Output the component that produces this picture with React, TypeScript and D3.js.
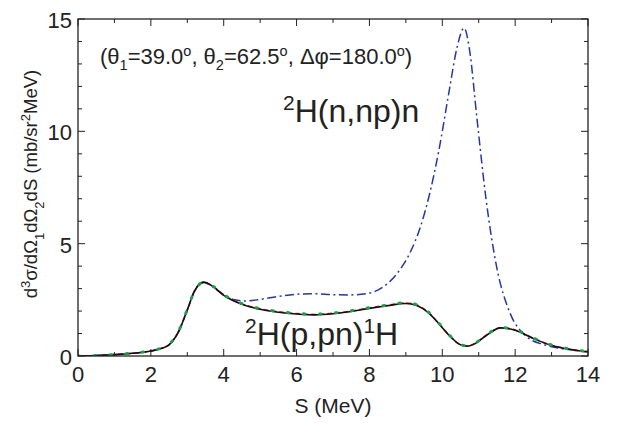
import React from "react";
import * as d3 from "d3";

// ---- data ----
const S_PN = [0, 0.5, 1, 1.5, 2, 2.25, 2.5, 2.75, 3, 3.2, 3.45, 3.7, 4, 4.5, 5, 5.5, 6, 6.5, 7, 7.5, 8, 8.5, 9, 9.3, 9.6, 9.9, 10.2, 10.5, 10.7, 10.9, 11.2, 11.6, 12, 12.5, 13, 13.5, 14];
const BLACK_PN = [0, 0.02, 0.06, 0.12, 0.22, 0.32, 0.5, 1.05, 2.05, 2.9, 3.29, 3.1, 2.7, 2.3, 2.08, 1.95, 1.87, 1.83, 1.88, 1.98, 2.12, 2.24, 2.34, 2.25, 1.95, 1.45, 0.9, 0.5, 0.44, 0.55, 0.9, 1.25, 1.15, 0.78, 0.47, 0.3, 0.18];
const RED_PN = [0, 0.02, 0.06, 0.12, 0.22, 0.33, 0.5, 1.05, 2.05, 2.88, 3.28, 3.1, 2.72, 2.32, 2.1, 1.97, 1.89, 1.85, 1.9, 2.0, 2.14, 2.26, 2.36, 2.27, 1.97, 1.46, 0.9, 0.5, 0.45, 0.56, 0.92, 1.26, 1.16, 0.79, 0.48, 0.3, 0.18];
const GREEN_PN = [0, 0.02, 0.07, 0.13, 0.23, 0.33, 0.52, 1.07, 2.07, 2.9, 3.28, 3.11, 2.73, 2.33, 2.11, 1.98, 1.9, 1.86, 1.91, 2.01, 2.15, 2.27, 2.37, 2.28, 1.98, 1.47, 0.92, 0.51, 0.45, 0.57, 0.93, 1.27, 1.17, 0.8, 0.49, 0.31, 0.19];

const S_NP = [0, 0.5, 1, 1.5, 2, 2.25, 2.5, 2.75, 3, 3.2, 3.45, 3.7, 4, 4.3, 4.6, 5, 5.5, 6, 6.5, 7, 7.5, 8, 8.4, 8.75, 9.1, 9.4, 9.65, 9.9, 10.2, 10.4, 10.6, 10.75, 10.95, 11.2, 11.5, 11.85, 12.3, 12.8, 13.2, 13.6, 14];
const BLUE_NP = [0, 0.02, 0.06, 0.12, 0.22, 0.32, 0.5, 1.05, 2.05, 2.9, 3.27, 3.08, 2.72, 2.5, 2.45, 2.52, 2.65, 2.75, 2.77, 2.73, 2.72, 2.8, 3.1, 3.65, 4.55, 5.75, 7.2, 9.1, 11.9, 13.7, 14.6, 13.6, 10.6, 7.0, 3.9, 1.95, 0.88, 0.5, 0.35, 0.26, 0.2];

const X_TICKS = [0, 2, 4, 6, 8, 10, 12, 14];
const X_MINOR = [1, 3, 5, 7, 9, 11, 13];
const Y_TICKS = [0, 5, 10, 15];
const Y_MINOR = [1, 2, 3, 4, 6, 7, 8, 9, 11, 12, 13, 14];

const W = 620, H = 423;
const M = { left: 78, right: 588, top: 19, bottom: 356 };
const FONT = "'Liberation Sans', Arial, sans-serif";

export default function App() {
  const x = d3.scaleLinear().domain([0, 14]).range([M.left, M.right]);
  const y = d3.scaleLinear().domain([0, 15]).range([M.bottom, M.top]);
  const mk = (xs: number[], ys: number[]) =>
    d3.line<number>().x((_, i) => x(xs[i])).y((v) => y(v)).curve(d3.curveMonotoneX)(ys) || "";

  const major = 7, minor = 4;
  const tickColor = "#222";
  return (
    <svg width={W} height={H} style={{ position: "absolute", left: 0, top: 0, background: "#fff" }} fontFamily={FONT}>
      <rect x={0} y={0} width={W} height={H} fill="#fff" />
      <defs>
        <clipPath id="plot">
          <rect x={M.left} y={M.top} width={M.right - M.left} height={M.bottom - M.top} />
        </clipPath>
      </defs>
      {/* curves */}
      <g clipPath="url(#plot)" fill="none">
        <path d={mk(S_NP, BLUE_NP)} stroke="#28379e" strokeWidth={1.5} strokeDasharray="9,3.5,2,3.5" />
        <path d={mk(S_PN, RED_PN)} stroke="#d8262a" strokeWidth={1.6} strokeDasharray="5,3" />
        <path d={mk(S_PN, BLACK_PN)} stroke="#111" strokeWidth={1.6} />
        <path d={mk(S_PN, GREEN_PN)} stroke="#1f9e4a" strokeWidth={3} strokeDasharray="1.5,14.5" strokeLinecap="round" />
      </g>
      {/* frame */}
      <rect x={M.left} y={M.top} width={M.right - M.left} height={M.bottom - M.top} fill="none" stroke="#222" strokeWidth={1.3} />
      {/* x ticks */}
      {X_TICKS.map((t) => (
        <g key={"xt" + t}>
          <line x1={x(t)} x2={x(t)} y1={M.bottom} y2={M.bottom - major} stroke={tickColor} />
          <line x1={x(t)} x2={x(t)} y1={M.top} y2={M.top + major} stroke={tickColor} />
          <text x={x(t)} y={M.bottom + 26} textAnchor="middle" fontSize={22} fill="#222">{t}</text>
        </g>
      ))}
      {X_MINOR.map((t) => (
        <g key={"xm" + t}>
          <line x1={x(t)} x2={x(t)} y1={M.bottom} y2={M.bottom - minor} stroke={tickColor} />
          <line x1={x(t)} x2={x(t)} y1={M.top} y2={M.top + minor} stroke={tickColor} />
        </g>
      ))}
      {Y_TICKS.map((t) => (
        <g key={"yt" + t}>
          <line x1={M.left} x2={M.left + major} y1={y(t)} y2={y(t)} stroke={tickColor} />
          <line x1={M.right} x2={M.right - major} y1={y(t)} y2={y(t)} stroke={tickColor} />
          <text x={M.left - 6} y={y(t) + 9} textAnchor="end" fontSize={22} fill="#222">{t}</text>
        </g>
      ))}
      {Y_MINOR.map((t) => (
        <g key={"ym" + t}>
          <line x1={M.left} x2={M.left + minor} y1={y(t)} y2={y(t)} stroke={tickColor} />
          <line x1={M.right} x2={M.right - minor} y1={y(t)} y2={y(t)} stroke={tickColor} />
        </g>
      ))}
      {/* axis labels */}
      <text x={(M.left + M.right) / 2} y={413} textAnchor="middle" fontSize={21} fill="#222">S (MeV)</text>
      <text transform={`translate(37, 184) rotate(-90)`} textAnchor="middle" fontSize={18.5} fill="#222">
        d<tspan dy={-7} fontSize={13}>3</tspan><tspan dy={7}>σ/dΩ</tspan><tspan dy={7} fontSize={13}>1</tspan><tspan dy={-7}>dΩ</tspan><tspan dy={7} fontSize={13}>2</tspan><tspan dy={-7}>dS  (mb/sr</tspan><tspan dy={-7} fontSize={13}>2</tspan><tspan dy={7}>MeV)</tspan>
      </text>
      {/* annotation */}
      <text x={100} y={64} fontSize={22} fill="#222">
        (θ<tspan dy={6} fontSize={14.5}>1</tspan><tspan dy={-6}>=39.0</tspan><tspan dy={-8} fontSize={14.5}>o</tspan><tspan dy={8}>, θ</tspan><tspan dy={6} fontSize={14.5}>2</tspan><tspan dy={-6}>=62.5</tspan><tspan dy={-8} fontSize={14.5}>o</tspan><tspan dy={8}>, Δφ=180.0</tspan><tspan dy={-8} fontSize={14.5}>o</tspan><tspan dy={8}>)</tspan>
      </text>
      <text x={283} y={122} fontSize={32} fill="#222">
        <tspan dy={-12} fontSize={21}>2</tspan><tspan dy={12}>H(n,np)n</tspan>
      </text>
      <text x={245} y={345} fontSize={32} fill="#222">
        <tspan dy={-12} fontSize={21}>2</tspan><tspan dy={12}>H(p,pn)</tspan><tspan dy={-12} fontSize={21}>1</tspan><tspan dy={12}>H</tspan>
      </text>
    </svg>
  );
}
